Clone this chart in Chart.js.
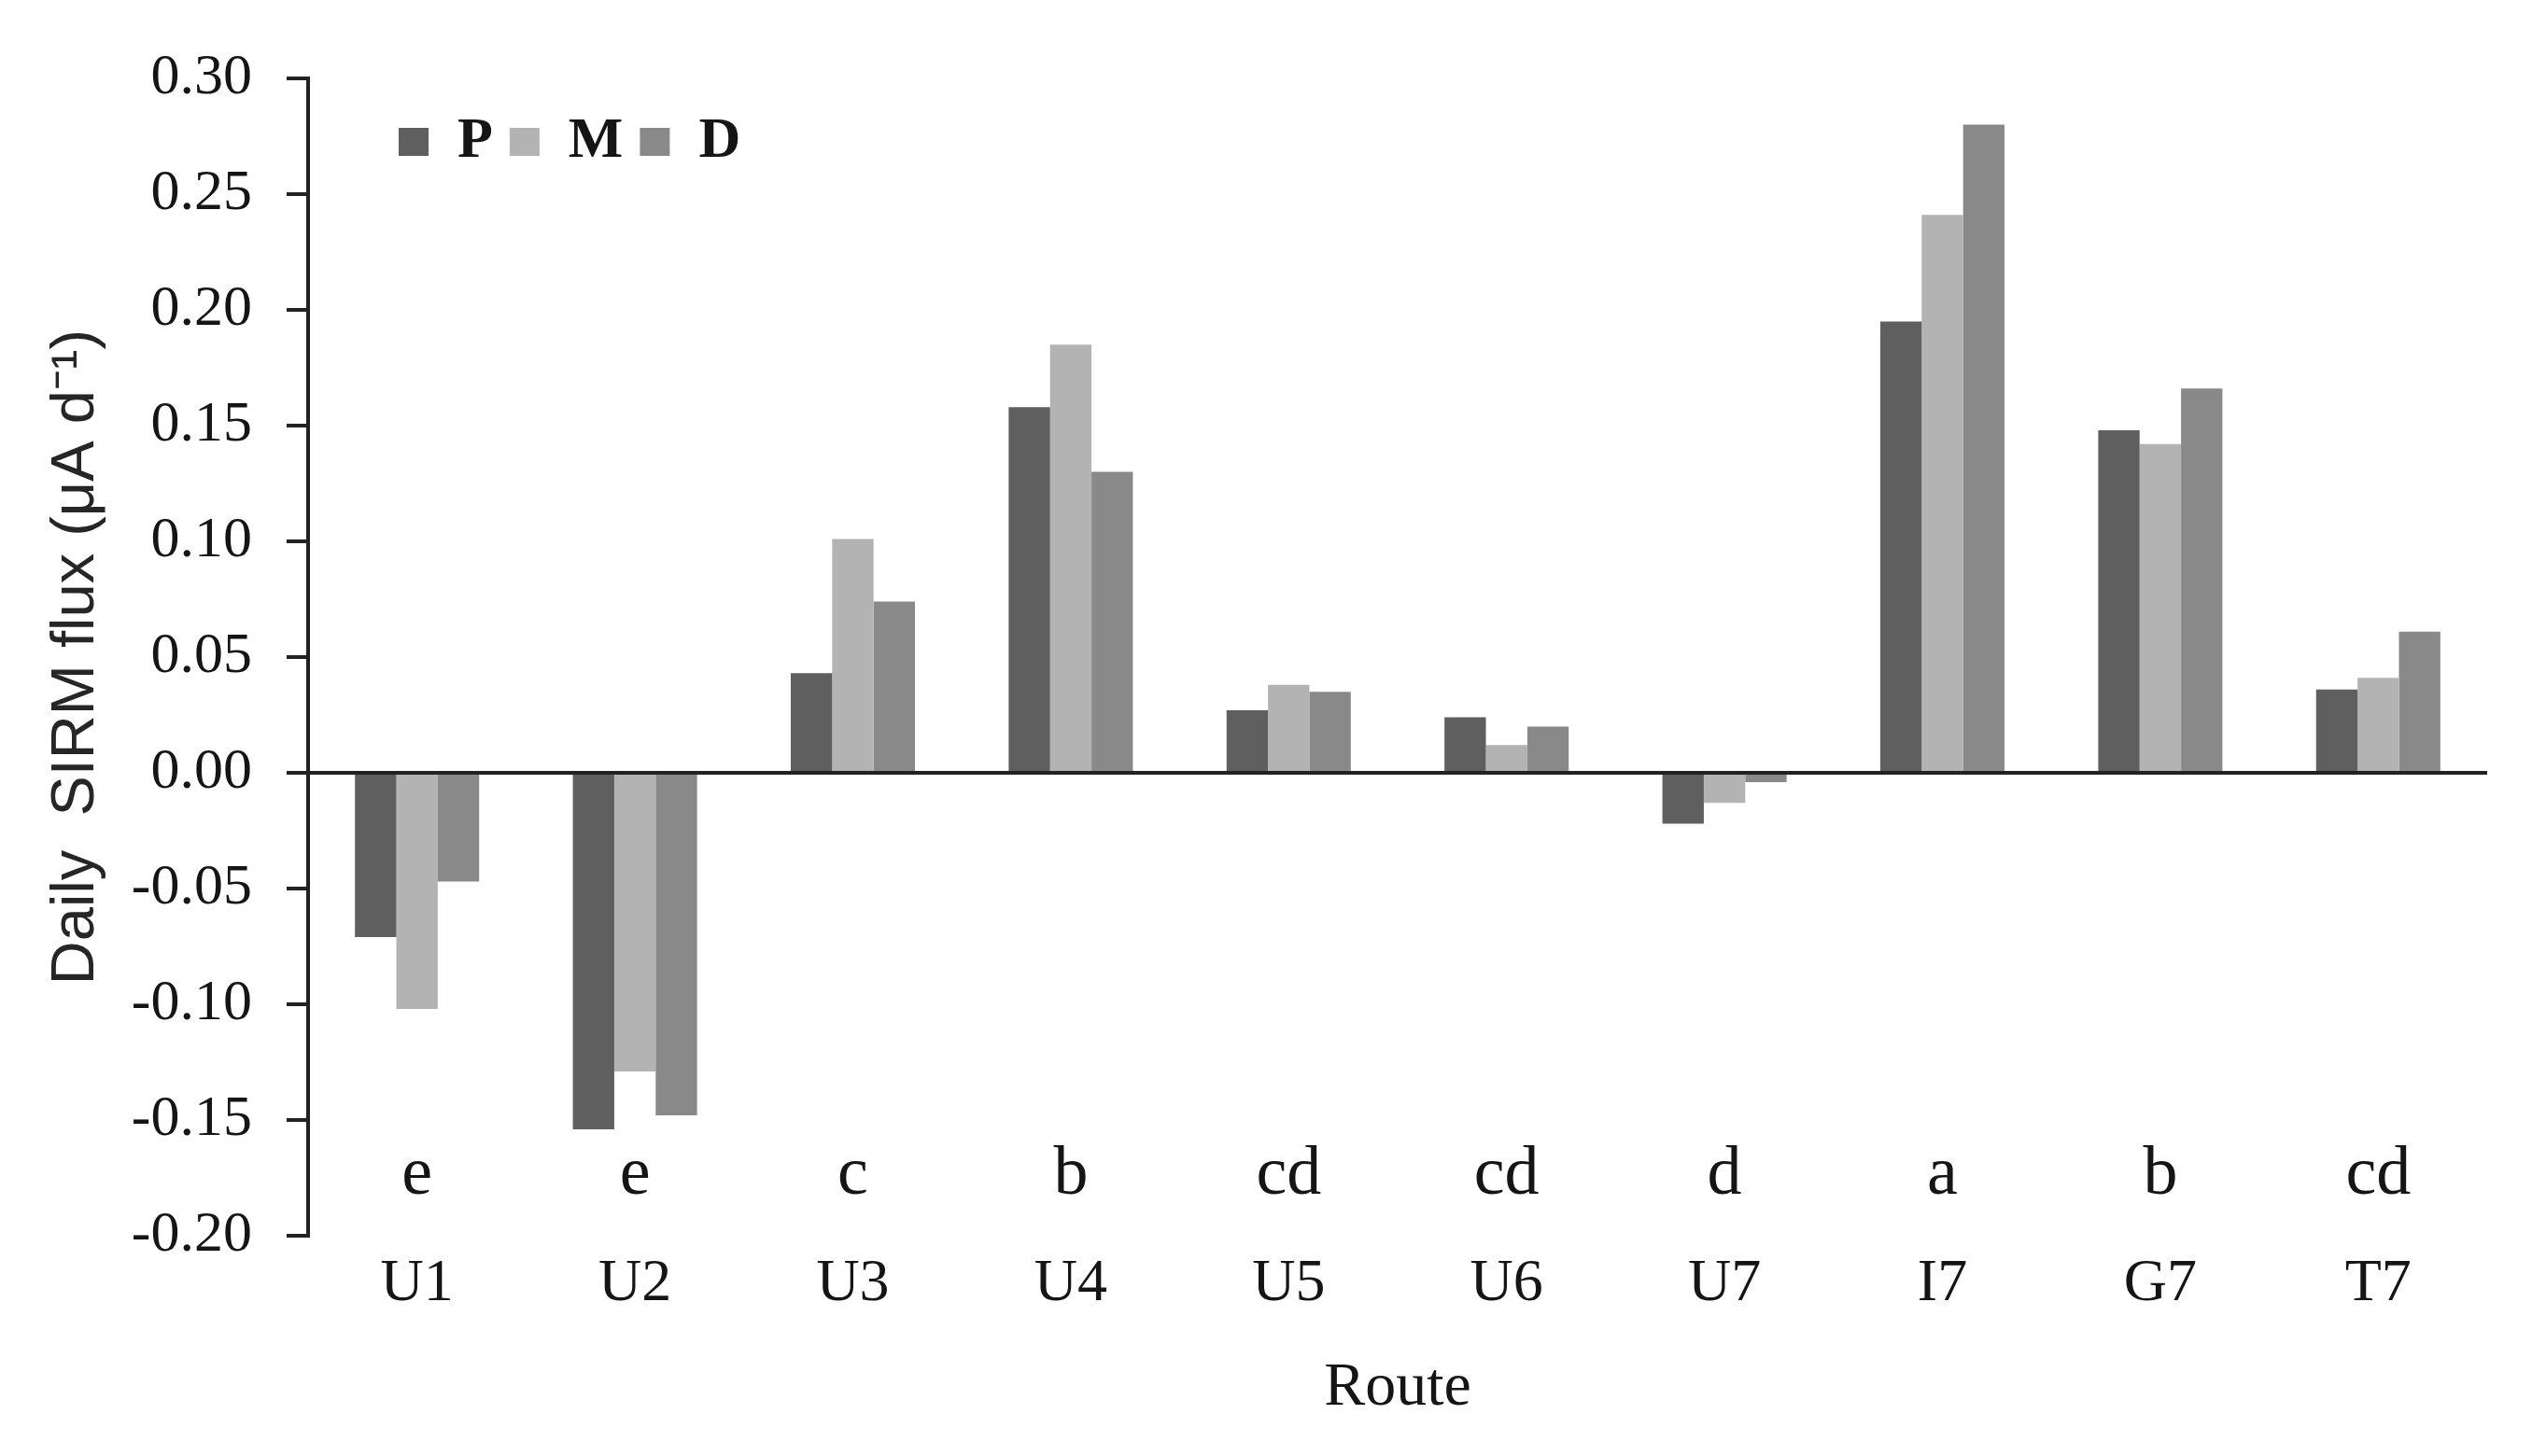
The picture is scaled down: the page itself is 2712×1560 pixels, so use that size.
<!DOCTYPE html>
<html>
<head>
<meta charset="utf-8">
<title>Daily SIRM flux by route</title>
<script src="https://cdn.jsdelivr.net/npm/chart.js@4.4.1/dist/chart.umd.min.js"></script>
<style>
  html, body { margin: 0; padding: 0; background: #fff; }
  #grafik { display: block; }
</style>
</head>
<body>
<canvas id="grafik" width="2712" height="1560"></canvas>
<script>
// Routes on the x axis
const routes = ['U1', 'U2', 'U3', 'U4', 'U5', 'U6', 'U7', 'I7', 'G7', 'T7'];

// Letters of the significance groups, one per route
const groupLetters = ['e', 'e', 'c', 'b', 'cd', 'cd', 'd', 'a', 'b', 'cd'];

// Daily SIRM flux (µA d-1)
const pValues = [-0.071, -0.154, 0.043, 0.158, 0.027, 0.024, -0.022, 0.195, 0.148, 0.036];
const mValues = [-0.102, -0.129, 0.101, 0.185, 0.038, 0.012, -0.013, 0.241, 0.142, 0.041];
const dValues = [-0.047, -0.148, 0.074, 0.130, 0.035, 0.020, -0.004, 0.280, 0.166, 0.061];

// y axis range
const yMin = -0.20;
const yMax = 0.30;
const yStep = 0.05;

// where the group letters sit, in axis units
const letterLevel = -0.182;

const serif = 'Liberation Serif';
const textColor = '#151515';
const axisColor = '#222222';

// Move the legend into the plot, top left corner
const legendInside = {
    id: 'legendInside',
    afterLayout: function(chart) {
        const lg = chart.legend;
        if (!lg) return;
        const area = chart.chartArea;
        lg.left = area.left + 79;
        lg.right = lg.left + lg.width;
        lg.top = 103;
        lg.bottom = lg.top + lg.height;
    }
};

// Group letters above the route names
const groupLetterPlugin = {
    id: 'groupLetters',
    afterDatasetsDraw: function(chart) {
        const ctx = chart.ctx;
        const xScale = chart.scales.x;
        const yScale = chart.scales.y;
        ctx.save();
        ctx.font = '74px "' + serif + '"';
        ctx.fillStyle = textColor;
        ctx.textAlign = 'center';
        ctx.textBaseline = 'alphabetic';
        groupLetters.forEach(function(harf, i) {
            ctx.fillText(harf, xScale.getPixelForValue(i), yScale.getPixelForValue(letterLevel));
        });
        ctx.restore();
    }
};

new Chart(document.getElementById('grafik'), {
    type: 'bar',
    data: {
        labels: routes,
        datasets: [
            { label: 'P', data: pValues, backgroundColor: '#5f5f5f' },
            { label: 'M', data: mValues, backgroundColor: '#b3b3b3' },
            { label: 'D', data: dValues, backgroundColor: '#898989' }
        ]
    },
    options: {
        responsive: false,
        animation: false,
        devicePixelRatio: 1,
        layout: {
            padding: { top: -6, right: 48, bottom: 0, left: 0 }
        },
        datasets: {
            bar: { barPercentage: 1, categoryPercentage: 0.57, borderWidth: 0 }
        },
        scales: {
            x: {
                grid: { display: false, drawTicks: false },
                border: { display: false },
                ticks: {
                    font: { family: serif, size: 64 },
                    color: textColor,
                    padding: 14,
                    maxRotation: 0,
                    autoSkip: false
                },
                title: {
                    display: true,
                    text: 'Route',
                    font: { family: serif, size: 66 },
                    color: textColor,
                    padding: { top: 0, bottom: 33 }
                },
                afterFit: function(scale) {
                    scale.height = 236;
                }
            },
            y: {
                min: yMin,
                max: yMax,
                grid: {
                    drawOnChartArea: true,
                    // only the zero line is drawn across the plot
                    color: function(c) {
                        return (c.tick && Math.abs(c.tick.value) < 1e-9) ? axisColor : 'rgba(0,0,0,0)';
                    },
                    lineWidth: 4,
                    tickColor: axisColor,
                    tickWidth: 4,
                    tickLength: 23
                },
                border: { display: true, color: axisColor, width: 4 },
                ticks: {
                    stepSize: yStep,
                    padding: 37,
                    font: { family: serif, size: 62 },
                    color: textColor,
                    callback: function(value) {
                        return Number(value).toFixed(2);
                    }
                },
                title: {
                    display: true,
                    text: 'Daily  SIRM flux (μA d⁻¹)',
                    font: { family: 'Liberation Sans', size: 65 },
                    color: '#262626',
                    padding: { top: 43, bottom: 0 }
                },
                afterFit: function(scale) {
                    scale.width = 330;
                }
            }
        },
        plugins: {
            legend: {
                display: true,
                position: 'top',
                align: 'start',
                labels: {
                    boxWidth: 32,
                    boxHeight: 30,
                    padding: 18,
                    color: textColor,
                    font: { family: serif, size: 62, weight: 'bold' }
                }
            },
            tooltip: { enabled: false }
        }
    },
    plugins: [legendInside, groupLetterPlugin]
});
</script>
</body>
</html>
